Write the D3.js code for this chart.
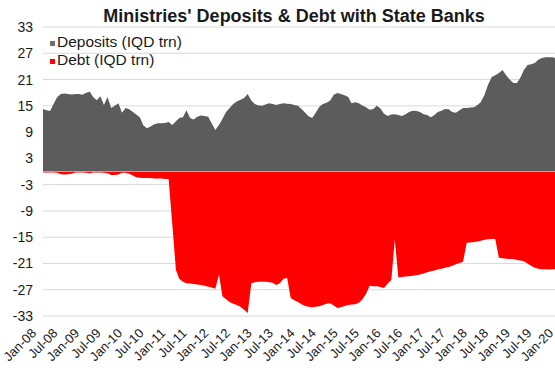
<!DOCTYPE html>
<html>
<head>
<meta charset="utf-8">
<script src="https://cdn.jsdelivr.net/npm/d3@7"></script>
<style>
  html, body { margin: 0; padding: 0; background: #fff; }
  svg { display: block; }
  text { font-family: "Liberation Sans", Arial, Helvetica, sans-serif; fill: #1a1a1a; }
</style>
</head>
<body>
<script>
// Monthly observations, Jan 2008 - Dec 2019 (IQD trillion)
const startMonth = new Date(2008, 0, 1);
const endMonth = new Date(2020, 0, 1);

const deposits = [
  14.3, 14.0, 13.8, 15.5, 17.0, 17.7, 17.8, 17.7, 17.6, 17.7, 17.7, 17.5,
  18.0, 18.2, 17.0, 16.3, 17.2, 15.2, 17.0, 14.5, 15.0, 15.6, 13.4, 14.5,
  14.2, 13.6, 13.0, 12.4, 10.5, 9.9, 10.3, 10.8, 11.0, 11.0, 11.1, 11.3,
  10.6, 11.5, 12.2, 12.4, 14.0, 12.2, 11.9, 12.5, 12.8, 12.7, 12.5, 11.0,
  9.5, 10.6, 12.0, 13.6, 14.5, 15.4, 16.0, 16.4, 16.8, 17.7, 16.2, 15.4,
  15.1, 15.0, 15.3, 15.6, 15.4, 15.2, 15.4, 15.6, 15.5, 15.4, 15.2, 15.0,
  14.3, 13.4, 12.6, 12.2, 13.4, 14.8, 15.4, 15.7, 16.2, 17.5, 17.9, 17.7,
  17.4, 17.0, 15.6, 15.8, 15.6, 15.1, 14.7, 14.1, 14.3, 15.0, 14.4, 13.2,
  12.7, 13.0, 13.1, 12.9, 12.7, 13.1, 13.6, 13.9, 13.8, 13.6, 13.1, 12.9,
  12.4, 12.9, 13.6, 13.9, 14.3, 14.2, 13.6, 13.4, 14.0, 14.5, 14.5, 14.6,
  14.7, 15.2, 15.9, 17.5, 19.8, 21.6, 22.0, 22.5, 23.2, 22.0, 21.0, 20.2,
  20.2, 21.5, 23.2, 24.3, 24.5, 24.8, 25.5, 25.9, 26.1, 26.1, 26.1, 25.8
];

const debt = [
  -0.2, -0.2, -0.2, -0.2, -0.3, -0.6, -0.7, -0.6, -0.5, -0.2, -0.2, -0.2,
  -0.3, -0.4, -0.2, -0.2, -0.2, -0.3, -0.4, -0.8, -0.8, -0.7, -0.3, -0.3,
  -0.5, -0.9, -1.3, -1.4, -1.5, -1.5, -1.5, -1.6, -1.6, -1.6, -1.7, -1.7,
  -12.0, -22.5, -24.5, -25.2, -25.5, -25.6, -25.7, -25.8, -25.9, -26.1, -26.3, -26.5,
  -26.8, -23.5, -28.5, -29.2, -29.8, -30.2, -30.5, -30.9, -31.6, -32.3, -25.5, -25.3,
  -25.2, -25.2, -25.2, -25.3, -25.4, -25.9, -25.5, -24.5, -24.3, -28.9, -29.4, -29.8,
  -30.3, -30.7, -30.9, -31.0, -30.9, -30.8, -30.5, -30.2, -30.1, -30.6, -31.2, -31.0,
  -30.7, -30.5, -30.4, -30.3, -30.0, -29.2, -28.0, -26.1, -26.2, -26.2, -26.4, -26.6,
  -25.6, -24.8, -15.6, -24.2, -24.1, -24.0, -23.9, -23.8, -23.7, -23.5, -23.3, -23.0,
  -22.8, -22.6, -22.4, -22.2, -22.0, -21.8, -21.5, -21.2, -20.9, -20.6, -16.3, -16.2,
  -16.1, -16.0, -15.8, -15.6, -15.5, -15.4, -15.4, -19.7, -19.8, -19.9, -20.0, -20.0,
  -20.2, -20.3, -20.5, -21.0, -21.5, -22.0, -22.2, -22.3, -22.3, -22.4, -22.3, -22.3
];

const yTicks = [33, 27, 21, 15, 9, 3, -3, -9, -15, -21, -27, -33];

const xTickLabels = [
  "Jan-08", "Jul-08", "Jan-09", "Jul-09", "Jan-10", "Jul-10", "Jan-11", "Jul-11",
  "Jan-12", "Jul-12", "Jan-13", "Jul-13", "Jan-14", "Jul-14", "Jan-15", "Jul-15",
  "Jan-16", "Jul-16", "Jan-17", "Jul-17", "Jan-18", "Jul-18", "Jan-19", "Jul-19", "Jan-20"
];

const seriesNames = ["Deposits (IQD trn)", "Debt (IQD trn)"];
const seriesColors = ["#5c5c5c", "#ff0000"];

const W = 555, H = 371;
const months = d3.timeMonth.range(startMonth, endMonth);
const rows = months.map((m, i) => ({ date: m, dep: deposits[i], debt: debt[i] }));

const svg = d3.select("body").append("svg")
  .attr("width", W).attr("height", H);

svg.append("rect").attr("width", W).attr("height", H).attr("fill", "#fff");

const x = d3.scaleTime().domain([startMonth, endMonth]).range([43, 560]);
const y = d3.scaleLinear().domain([-33, 33]).range([316, 27]);

// horizontal gridlines
svg.append("g").selectAll("line").data(yTicks).join("line")
  .attr("x1", 43).attr("x2", W + 20)
  .attr("y1", d => y(d)).attr("y2", d => y(d))
  .attr("stroke", "#d9d9d9").attr("stroke-width", 1);

// areas
const depArea = d3.area().x(d => x(d.date)).y0(y(0)).y1(d => y(d.dep));
const debtArea = d3.area().x(d => x(d.date)).y0(y(0)).y1(d => y(d.debt));

svg.append("path").datum(rows).attr("d", depArea).attr("fill", seriesColors[0]);
svg.append("path").datum(rows).attr("d", debtArea).attr("fill", seriesColors[1]);

// zero axis
svg.append("line")
  .attr("x1", 43).attr("x2", W + 20)
  .attr("y1", y(0)).attr("y2", y(0))
  .attr("stroke", "#b8a2a2").attr("stroke-width", 1);

// y tick labels
svg.append("g").selectAll("text").data(yTicks).join("text")
  .attr("x", 33).attr("y", d => y(d)).attr("dy", "0.36em")
  .attr("text-anchor", "end")
  .attr("font-size", 14)
  .text(d => d);

// x tick labels (half-yearly), rotated
const tickDates = xTickLabels.map((_, i) => d3.timeMonth.offset(startMonth, i * 6));
svg.append("g").selectAll("text").data(xTickLabels).join("text")
  .attr("text-anchor", "end")
  .attr("font-size", 13)
  .attr("transform", (d, i) => `translate(${x(tickDates[i]) - 6},${334}) rotate(-45)`)
  .text(d => d);

// title
svg.append("text")
  .attr("x", 294).attr("y", 22)
  .attr("text-anchor", "middle")
  .attr("font-size", 18).attr("font-weight", "bold")
  .text("Ministries' Deposits & Debt with State Banks");

// legend
const legend = svg.append("g");
seriesNames.forEach((name, i) => {
  const ly = 47 + i * 18;
  legend.append("rect")
    .attr("x", 50).attr("y", ly - 6).attr("width", 5).attr("height", 5)
    .attr("fill", i === 0 ? "#6e6e6e" : seriesColors[1]);
  legend.append("text")
    .attr("x", 57).attr("y", ly)
    .attr("font-size", 15.5)
    .text(name);
});
</script>
</body>
</html>
